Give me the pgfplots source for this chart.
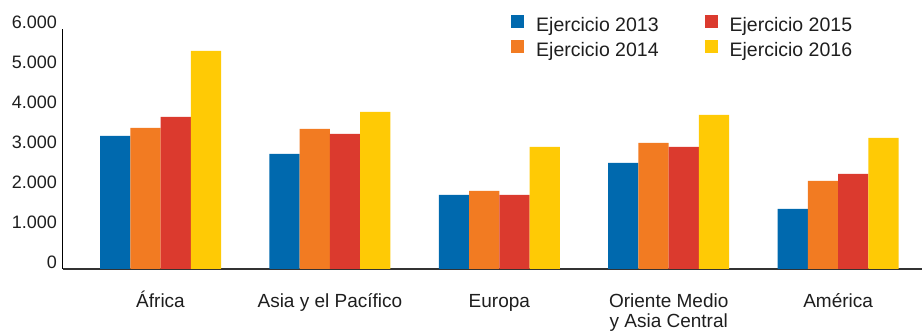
\documentclass[border=0pt]{standalone}
\usepackage{pgfplots}
\pgfplotsset{compat=1.18}
\usepackage{pgfplotstable}
\usepackage{fontspec}
\setmainfont{Liberation Sans}

\definecolor{azul}{RGB}{0,105,174}
\definecolor{naranja}{RGB}{242,123,34}
\definecolor{rojo}{RGB}{219,58,46}
\definecolor{amarillo}{RGB}{255,202,5}
\definecolor{texto}{RGB}{30,30,30}

% valores (miles)
\pgfplotstableread{
idx y2013 y2014 y2015 y2016
0   3325  3525  3800  5450
1   2875  3500  3375  3925
2   1850  1950  1850  3050
3   2650  3150  3050  3850
4   1500  2200  2375  3275
}\datos

\newcommand{\ph}{\vphantom{Á}}

\begin{document}
\begin{tikzpicture}
\useasboundingbox (0,0) rectangle (922pt,331pt);
\begin{axis}[
    at={(63pt,62pt)}, anchor=south west,
    width=859pt, height=240pt, scale only axis,
    ybar=0pt, bar width=30.25pt,
    xmin=-0.5756, xmax=4.495,
    ymin=0, ymax=6000,
    axis lines=left, axis line style={-},
    x axis line style={line width=2pt, draw=black!80},
    y axis line style={line width=1pt, draw=black},
    major tick length=0pt,
    xtick={0,1,2,3,4},
    xticklabels={\ph África, \ph Asia y el Pacífico, \ph Europa, {\ph Oriente Medio\\y Asia Central}, \ph América},
    xticklabel style={anchor=north, align=center, inner sep=0pt, yshift=-21.5pt,
        font=\fontsize{19}{20}\selectfont, text=texto},
    ytick={0,1000,...,6000},
    scaled y ticks=false,
    /pgf/number format/.cd, use comma, 1000 sep={.}, assume math mode=true,
    /pgfplots/.cd,
    yticklabel style={anchor=base east, inner sep=0pt, xshift=-6pt,
        font=\fontsize{18}{21}\selectfont, text=texto},
    legend columns=2,
    transpose legend,
    legend cell align=left,
    legend style={draw=none, fill=none, at={(0.518,1.067)}, anchor=north west,
        font=\fontsize{19.5}{22}\selectfont, text=texto,
        row sep=5pt,
        nodes={inner sep=0pt, text height=14pt, text depth=4pt},
        /tikz/every even column/.append style={column sep=46pt}},
    legend image code/.code={\fill[#1] (0pt,-2pt) rectangle (13pt,11pt);},
    /tikz/every odd column/.append style={column sep=12pt},
]
\addplot[draw=none, fill=azul] table[x=idx, y=y2013] {\datos};
\addplot[draw=none, fill=naranja] table[x=idx, y=y2014] {\datos};
\addplot[draw=none, fill=rojo] table[x=idx, y=y2015] {\datos};
\addplot[draw=none, fill=amarillo] table[x=idx, y=y2016] {\datos};
\legend{Ejercicio 2013, Ejercicio 2014, Ejercicio 2015, Ejercicio 2016}
\end{axis}
\end{tikzpicture}
\end{document}
